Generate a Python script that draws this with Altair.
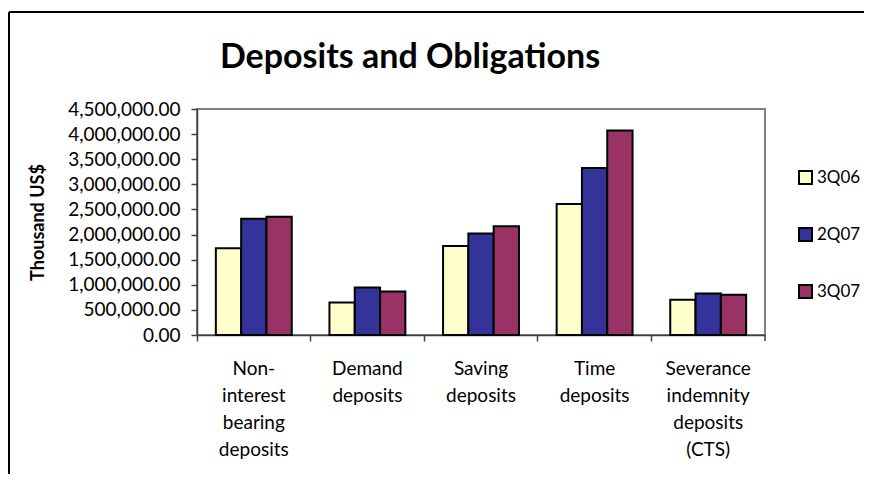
import altair as alt
import pandas as pd

categories = [
    "Non-interest bearing deposits",
    "Demand deposits",
    "Saving deposits",
    "Time deposits",
    "Severance indemnity deposits (CTS)",
]
periods = ["3Q06", "2Q07", "3Q07"]
values_3q06 = [1725000, 648000, 1770000, 2610000, 700000]
values_2q07 = [2313000, 945000, 2020000, 3325000, 826000]
values_3q07 = [2353000, 866000, 2167000, 4070000, 800000]
colors = ["#FFFFCC", "#333399", "#993366"]
y_ticks = [0, 500000, 1000000, 1500000, 2000000, 2500000, 3000000, 3500000, 4000000, 4500000]

rows = []
for p, vals in zip(periods, [values_3q06, values_2q07, values_3q07]):
    for c, v in zip(categories, vals):
        rows.append({"category": c, "period": p, "value": v})
df = pd.DataFrame(rows)

W, H = 568, 226
FONT = "Lato"

bars = alt.Chart(df).mark_bar(stroke="black", strokeWidth=2).encode(
    x=alt.X(
        "category:N",
        sort=categories,
        scale=alt.Scale(paddingInner=0, paddingOuter=0),
        axis=alt.Axis(
            title=None,
            bandPosition=0,
            labelAngle=0,
            labelExpr="split(replace(datum.label, '-', '- '), ' ')",
            labelLineHeight=27,
            labelBaseline="top",
            labelPadding=18,
            tickSize=6,
            labelFontSize=19,
        ),
    ),
    xOffset=alt.XOffset(
        "period:N", sort=periods, scale=alt.Scale(paddingInner=0, paddingOuter=0.745)
    ),
    y=alt.Y(
        "value:Q",
        scale=alt.Scale(domain=[0, 4500000], nice=False),
        axis=alt.Axis(
            values=y_ticks,
            format=",.2f",
            title="Thousand US$",
            titleFont=FONT,
            titleFontSize=18,
            titleFontWeight="bold",
            titlePadding=20,
            grid=False,
            tickSize=6,
            labelPadding=11,
            labelFontSize=19,
        ),
    ),
    color=alt.Color(
        "period:N",
        sort=periods,
        scale=alt.Scale(domain=periods, range=colors),
        legend=alt.Legend(
            title=None,
            orient="none",
            legendX=600,
            legendY=60,
            symbolType="square",
            symbolSize=169,
            symbolStrokeColor="black",
            symbolStrokeWidth=2,
            labelFont=FONT,
            labelFontSize=17,
            labelOffset=3,
            rowPadding=36,
            padding=0,
        ),
    ),
)

frame_data = pd.DataFrame({"k": [0]})
frame_top = alt.Chart(frame_data).mark_rule(color="black", strokeWidth=2).encode(
    x=alt.value(-188), x2=alt.value(667), y=alt.value(-97)
)
frame_left = alt.Chart(frame_data).mark_rule(color="black", strokeWidth=2).encode(
    x=alt.value(-188), y=alt.value(-97), y2=alt.value(365)
)
end_tick = alt.Chart(frame_data).mark_rule(color="#404040", strokeWidth=1.5).encode(
    x=alt.value(W), y=alt.value(H), y2=alt.value(H + 6)
)

chart = (
    alt.layer(bars, frame_top, frame_left, end_tick)
    .properties(
        width=W,
        height=H,
        autosize=alt.AutoSizeParams(type="none"),
        padding={"left": 189, "top": 101, "right": 99, "bottom": 139},
        title=alt.Title(
            "Deposits and Obligations",
            font=FONT,
            fontSize=34,
            fontWeight="bold",
            color="black",
            anchor="middle",
            dx=-71,
            dy=78,
            offset=14,
        ),
    )
    .configure_view(stroke="#808080", strokeWidth=2)
    .configure_axis(
        labelFont=FONT,
        labelColor="black",
        domainColor="#404040",
        tickColor="#404040",
        domainWidth=1.5,
        tickWidth=1.5,
    )
)

chart.save("out.html", embed_options={"renderer": "svg", "actions": False})
